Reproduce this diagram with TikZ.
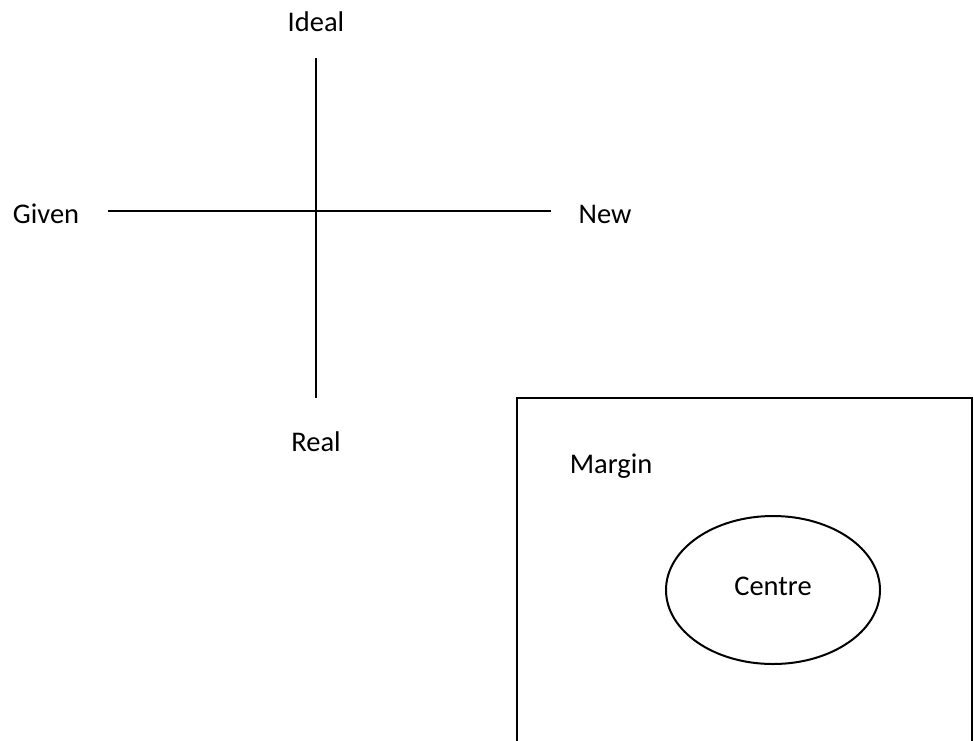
\documentclass[tikz,border=0pt]{standalone}
\usepackage{fontspec}
\setmainfont{Carlito}
\usetikzlibrary{shapes.geometric}
\begin{document}
\begin{tikzpicture}[x=1pt,y=-1pt,
  lbl/.style={font=\fontsize{28.5}{32}\selectfont, inner sep=0pt},
  axis/.style={line width=1.3pt, black},
  frame/.style={line width=2.6pt, black},
  oval/.style={draw, ellipse, line width=2pt, minimum width=214pt, minimum height=148pt, inner sep=0pt}]
\useasboundingbox (0,0) rectangle (974,740);
\clip (0,0) rectangle (974,740);
\coordinate (vt) at (316,58);
\coordinate (vb) at (316,398);
\coordinate (hl) at (108,211);
\coordinate (hr) at (551,211);
\draw[axis] (vt) -- (vb);
\draw[axis] (hl) -- (hr);
\node[lbl] (ideal) at (316,22) {Ideal};
\node[lbl] (given) at (46,214) {Given};
\node[lbl] (new) at (605,214) {New};
\node[lbl] (real) at (316,442) {Real};
\coordinate (fbl) at (517,760);
\coordinate (ftl) at (517,398);
\coordinate (ftr) at (972,398);
\coordinate (fbr) at (972,760);
\draw[frame] (fbl) -- (ftl) -- (ftr) -- (fbr);
\node[lbl] (margin) at (611,466) {Margin};
\node[oval] (centre) at (773,590) {};
\node[lbl] at (773,586) {Centre};
\end{tikzpicture}
\end{document}
